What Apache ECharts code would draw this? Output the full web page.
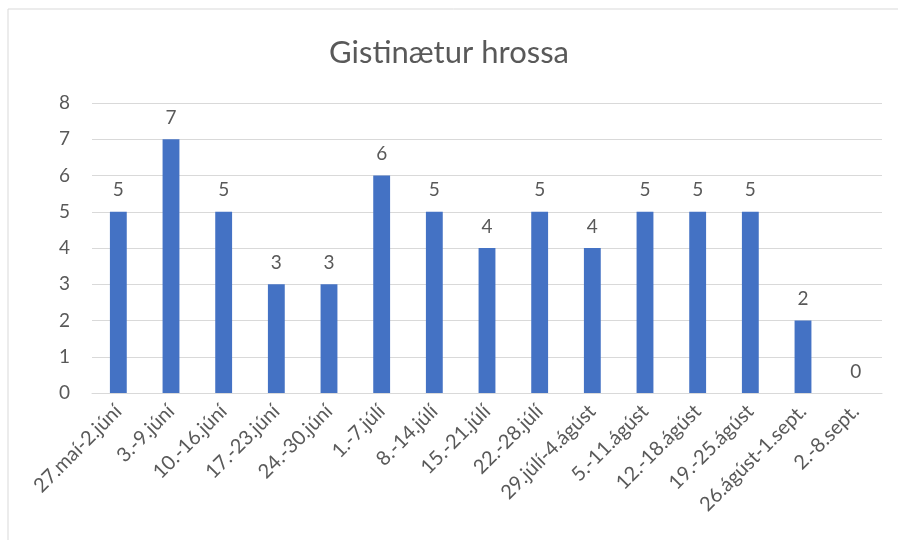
<!DOCTYPE html>
<html>
<head>
<meta charset="utf-8">
<script src="https://cdn.jsdelivr.net/npm/echarts@6/dist/echarts.min.js"></script>
<style>
  html, body { margin: 0; padding: 0; background: #fff; }
  #chart { width: 898px; height: 540px; }
</style>
</head>
<body>
<div id="chart"></div>
<script>
const categories = [
  '27.maí-2.júní', '3.-9.júní', '10.-16.júní', '17.-23.júní', '24.-30.júní',
  '1.-7.júlí', '8.-14.júlí', '15.-21.júlí', '22.-28.júlí', '29.júlí-4.ágúst',
  '5.-11.ágúst', '12.-18.ágúst', '19.-25.ágúst', '26.ágúst-1.sept.', '2.-8.sept.'
]
const nights = [5, 7, 5, 3, 3, 6, 5, 4, 5, 4, 5, 5, 5, 2, 0]

const textColor = '#595959'
const fontFamily = 'Lato, "Open Sans", sans-serif'

const chart = echarts.init(document.getElementById('chart'))

chart.setOption({
  animation: false,
  textStyle: { fontFamily: fontFamily },
  graphic: [
    {
      type: 'rect',
      shape: { x: 8, y: 9, width: 1000, height: 1000 },
      style: { fill: 'none', stroke: '#d9d9d9', lineWidth: 1 },
      silent: true
    }
  ],
  title: {
    text: 'Gistinætur hrossa',
    left: 'center',
    top: 32,
    textStyle: {
      color: textColor,
      fontSize: 31,
      fontWeight: 'normal',
      fontFamily: fontFamily
    }
  },
  grid: {
    left: 92,
    right: 16,
    top: 103,
    bottom: 147,
    containLabel: false
  },
  xAxis: {
    type: 'category',
    data: categories,
    axisLine: { lineStyle: { color: '#d9d9d9', width: 1 } },
    axisTick: { show: false },
    axisLabel: {
      color: textColor,
      fontSize: 20,
      rotate: 45,
      interval: 0,
      margin: 15
    }
  },
  yAxis: {
    type: 'value',
    min: 0,
    max: 8,
    interval: 1,
    axisLine: { show: false },
    axisTick: { show: false },
    axisLabel: {
      color: textColor,
      fontSize: 19,
      margin: 22
    },
    splitLine: {
      lineStyle: { color: '#d9d9d9', width: 1 }
    }
  },
  series: [
    {
      name: 'Gistinætur hrossa',
      type: 'bar',
      data: nights,
      barWidth: '32%',
      itemStyle: { color: '#4472C4' },
      label: {
        show: true,
        position: 'top',
        distance: 12,
        color: textColor,
        fontSize: 19
      }
    }
  ]
})
</script>
</body>
</html>
